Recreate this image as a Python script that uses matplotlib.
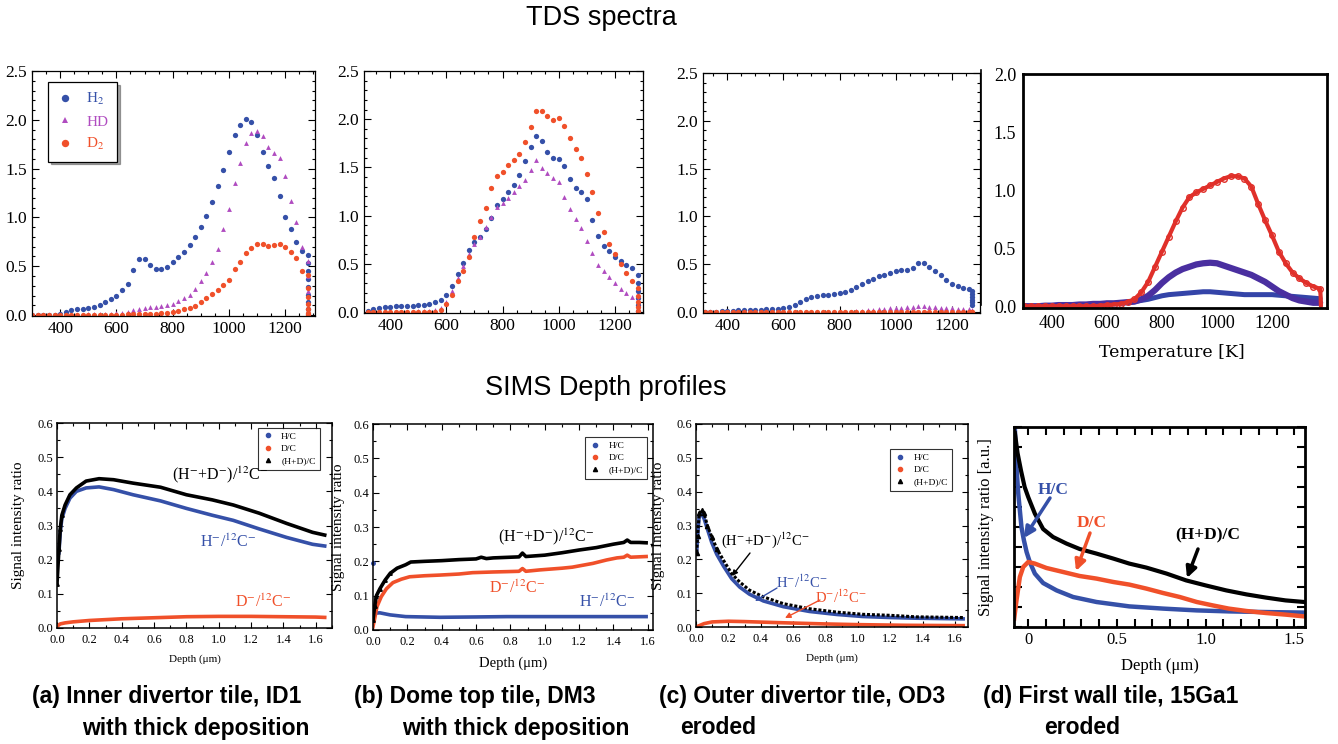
import matplotlib
matplotlib.use('Agg')
import matplotlib.pyplot as plt
from matplotlib.lines import Line2D
from matplotlib.ticker import MultipleLocator

plt.rcParams['font.family'] = ['Liberation Serif', 'DejaVu Serif']
plt.rcParams['mathtext.fontset'] = 'stix'

W, H = 1338, 744

BLUE = '#3550a8'
ORANGE = '#f0502a'
PURPLE = '#b04cc0'
RED_D = '#e0302a'
VIOLET_D = '#4a2fa0'
BLUE_D = '#3444a8'

# ---------------- TDS data (temperature in K) ----------------
T_GRID = [300, 320, 340, 360, 380, 400, 420, 440, 460, 480,
          500, 520, 540, 560, 580, 600, 620, 640, 660, 680,
          700, 720, 740, 760, 780, 800, 820, 840, 860, 880,
          900, 920, 940, 960, 980, 1000, 1020, 1040, 1060, 1080,
          1100, 1120, 1140, 1160, 1180, 1200, 1220, 1240, 1260]

# (a) inner divertor tile
A_T_END = 1280
A_H2 = [0, 0, 0, 0, 0.005, 0.01, 0.03, 0.05, 0.06, 0.065,
        0.07, 0.08, 0.10, 0.13, 0.16, 0.20, 0.26, 0.32, 0.46, 0.57,
        0.57, 0.51, 0.47, 0.47, 0.49, 0.54, 0.59, 0.65, 0.72, 0.80,
        0.90, 1.01, 1.16, 1.32, 1.49, 1.67, 1.84, 1.95, 2.01, 1.98,
        1.84, 1.67, 1.53, 1.40, 1.22, 1.00, 0.88, 0.75, 0.66]
A_H2_END = [0.61, 0.53, 0.45, 0.37, 0.29, 0.21, 0.13, 0.06, 0.01]
A_HD = [0, 0, 0, 0, 0, 0, 0, 0, 0, 0.005,
        0.01, 0.01, 0.01, 0.01, 0.015, 0.02, 0.02, 0.03, 0.05, 0.065,
        0.075, 0.08, 0.085, 0.09, 0.10, 0.11, 0.14, 0.17, 0.21, 0.27,
        0.35, 0.43, 0.54, 0.68, 0.88, 1.09, 1.35, 1.56, 1.76, 1.86,
        1.89, 1.83, 1.72, 1.66, 1.61, 1.42, 1.17, 0.95, 0.70]
A_HD_END = [0.55, 0.40, 0.25, 0.12, 0.03]
A_D2 = [0, 0, 0, 0, 0, 0, 0, 0, 0, 0,
        0, 0, 0, 0, 0, 0.005, 0.005, 0.01, 0.01, 0.01,
        0.01, 0.015, 0.015, 0.02, 0.025, 0.035, 0.045, 0.06, 0.075, 0.095,
        0.13, 0.17, 0.22, 0.26, 0.31, 0.36, 0.47, 0.54, 0.64, 0.69,
        0.73, 0.73, 0.71, 0.72, 0.73, 0.70, 0.65, 0.58, 0.45]
A_D2_END = [0.41, 0.28, 0.18, 0.11, 0.06, 0.02, 0.0]

# (b) dome top tile
B_T_END = 1282
B_H2 = [0.0, 0.01, 0.03, 0.045, 0.05, 0.055, 0.06, 0.06, 0.065, 0.065,
        0.07, 0.075, 0.085, 0.10, 0.13, 0.18, 0.27, 0.39, 0.51, 0.64,
        0.73, 0.78, 0.86, 0.98, 1.11, 1.17, 1.24, 1.32, 1.42, 1.57,
        1.71, 1.83, 1.77, 1.66, 1.60, 1.59, 1.51, 1.38, 1.29, 1.24,
        1.17, 0.95, 0.79, 0.69, 0.63, 0.57, 0.53, 0.49, 0.46]
B_H2_END = [0.38, 0.30, 0.22, 0.15, 0.07, 0.01]
B_HD = [0, 0, 0, 0, 0, 0, 0, 0, 0, 0,
        0.01, 0.01, 0.015, 0.02, 0.04, 0.10, 0.22, 0.35, 0.48, 0.60,
        0.71, 0.78, 0.88, 0.99, 1.09, 1.13, 1.18, 1.25, 1.31, 1.37,
        1.47, 1.58, 1.49, 1.44, 1.39, 1.35, 1.19, 1.07, 0.96, 0.87,
        0.74, 0.61, 0.49, 0.43, 0.36, 0.30, 0.24, 0.20, 0.16]
B_HD_END = [0.12, 0.07, 0.02]
B_D2 = [0, 0, 0, 0, 0, 0, 0, 0, 0, 0,
        0, 0, 0, 0.005, 0.02, 0.08, 0.18, 0.32, 0.43, 0.57,
        0.78, 0.94, 1.08, 1.29, 1.41, 1.45, 1.53, 1.58, 1.64, 1.76,
        1.92, 2.08, 2.09, 2.03, 1.99, 2.01, 1.93, 1.80, 1.69, 1.60,
        1.43, 1.25, 1.03, 0.83, 0.71, 0.60, 0.50, 0.41, 0.32]
B_D2_END = [0.25, 0.17, 0.10, 0.05, 0.01]

# (c) outer divertor tile
C_T_END = 1272
C_H2 = [0.0, 0.0, 0.0, 0.005, 0.01, 0.01, 0.015, 0.02, 0.02, 0.02,
        0.025, 0.025, 0.03, 0.03, 0.035, 0.04, 0.05, 0.07, 0.10, 0.14,
        0.16, 0.17, 0.18, 0.18, 0.19, 0.20, 0.21, 0.23, 0.26, 0.29,
        0.32, 0.35, 0.38, 0.39, 0.41, 0.43, 0.44, 0.44, 0.46, 0.51,
        0.51, 0.47, 0.43, 0.39, 0.34, 0.29, 0.27, 0.25, 0.24]
C_H2_END = [0.22, 0.19, 0.16, 0.13, 0.10, 0.07]
C_HD = [0, 0, 0, 0, 0, 0, 0, 0, 0, 0,
        0, 0, 0, 0, 0, 0, 0, 0, 0, 0,
        0, 0, 0, 0, 0, 0, 0, 0, 0.01, 0.015,
        0.02, 0.025, 0.03, 0.035, 0.04, 0.04, 0.045, 0.05, 0.055, 0.06,
        0.06, 0.055, 0.05, 0.045, 0.04, 0.04, 0.035, 0.03, 0.03]
C_HD_END = [0.02, 0.01]
C_D2 = [0, 0, 0, 0, 0, 0, 0, 0, 0, 0,
        0, 0, 0, 0, 0, 0, 0, 0, 0, 0,
        0, 0, 0, 0, 0, 0, 0, 0, 0, 0,
        0.005, 0.005, 0.005, 0.005, 0.005, 0.005, 0.005, 0.005, 0.005, 0.005,
        0.005, 0.005, 0.005, 0.005, 0.005, 0.005, 0.005, 0.005, 0.005]
C_D2_END = [0.005, 0.0]

# (d) first wall tile
T_D = [300, 325, 350, 375, 400, 425, 450, 475, 500, 525,
       550, 575, 600, 625, 650, 675, 700, 725, 750, 775,
       800, 825, 850, 875, 900, 925, 950, 975, 1000, 1025,
       1050, 1075, 1100, 1125, 1150, 1175, 1200, 1225, 1250, 1275,
       1300, 1325, 1350, 1375]
D_RED = [0, 0, 0, 0, 0, 0, 0, 0, 0, 0,
         0, 0.005, 0.01, 0.015, 0.02, 0.035, 0.06, 0.12, 0.21, 0.34,
         0.47, 0.60, 0.73, 0.85, 0.94, 0.98, 1.01, 1.04, 1.07, 1.10,
         1.12, 1.12, 1.10, 1.03, 0.88, 0.74, 0.61, 0.47, 0.37, 0.29,
         0.24, 0.20, 0.17, 0.15]
D_RED_END_T = [1377, 1378]
D_RED_END = [0.08, 0.0]
D_VIOLET = [0.0, 0.0, 0.0, 0.005, 0.005, 0.01, 0.01, 0.01, 0.015, 0.015,
            0.02, 0.02, 0.025, 0.025, 0.03, 0.035, 0.04, 0.06, 0.09, 0.14,
            0.20, 0.25, 0.29, 0.32, 0.34, 0.36, 0.37, 0.375, 0.37, 0.35,
            0.33, 0.31, 0.29, 0.27, 0.24, 0.21, 0.17, 0.13, 0.10, 0.07,
            0.05, 0.04, 0.03, 0.03]
D_BLUE = [0.0, 0.0, 0.0, 0.005, 0.005, 0.01, 0.01, 0.01, 0.015, 0.015,
          0.02, 0.02, 0.025, 0.025, 0.03, 0.035, 0.04, 0.05, 0.06, 0.075,
          0.09, 0.10, 0.105, 0.11, 0.115, 0.12, 0.125, 0.125, 0.12, 0.115,
          0.11, 0.105, 0.10, 0.10, 0.10, 0.10, 0.10, 0.095, 0.09, 0.085,
          0.08, 0.075, 0.07, 0.065]

# ---------------- SIMS data (depth in um) ----------------
SA_HD_X = [0.0, 0.012, 0.02, 0.03, 0.05, 0.08, 0.12, 0.18, 0.26, 0.35,
           0.47, 0.64, 0.80, 0.96, 1.09, 1.25, 1.42, 1.58, 1.655]
SA_HD_Y = [0.13, 0.23, 0.29, 0.33, 0.36, 0.39, 0.41, 0.43, 0.437, 0.434,
           0.424, 0.412, 0.39, 0.375, 0.36, 0.336, 0.306, 0.28, 0.272]
SA_H_X = [0.012, 0.02, 0.03, 0.05, 0.08, 0.12, 0.18, 0.26, 0.35,
          0.47, 0.64, 0.80, 0.96, 1.09, 1.25, 1.42, 1.58, 1.655]
SA_H_Y = [0.22, 0.28, 0.32, 0.35, 0.38, 0.40, 0.41, 0.413, 0.405,
          0.39, 0.372, 0.35, 0.33, 0.315, 0.29, 0.265, 0.245, 0.24]
SA_D_X = [0.0, 0.02, 0.05, 0.1, 0.2, 0.4, 0.6, 0.8, 1.0, 1.2, 1.4, 1.6, 1.655]
SA_D_Y = [0.005, 0.012, 0.015, 0.018, 0.022, 0.027, 0.030, 0.033, 0.034,
          0.034, 0.033, 0.032, 0.031]

SB_HD_X = [0.0, 0.01, 0.02, 0.04, 0.07, 0.10, 0.14, 0.19, 0.22, 0.30,
           0.40, 0.50, 0.60, 0.63, 0.66, 0.70, 0.80, 0.85, 0.87, 0.89,
           1.0, 1.1, 1.2, 1.3, 1.4, 1.46, 1.48, 1.50, 1.55, 1.59]
SB_HD_Y = [0.03, 0.07, 0.10, 0.12, 0.145, 0.165, 0.18, 0.19, 0.198, 0.200,
           0.202, 0.205, 0.207, 0.212, 0.208, 0.21, 0.212, 0.213, 0.224, 0.214,
           0.218, 0.225, 0.233, 0.240, 0.250, 0.255, 0.262, 0.255, 0.255, 0.254]
SB_D_X = [0.0, 0.01, 0.023, 0.048, 0.078, 0.116, 0.165, 0.213, 0.30, 0.39,
          0.50, 0.58, 0.70, 0.78, 0.85, 0.87, 0.89, 0.97, 1.1, 1.16,
          1.28, 1.36, 1.42, 1.46, 1.48, 1.50, 1.59]
SB_D_Y = [0.01, 0.034, 0.068, 0.097, 0.12, 0.138, 0.148, 0.155, 0.158, 0.16,
          0.163, 0.167, 0.169, 0.17, 0.171, 0.179, 0.171, 0.175, 0.18, 0.183,
          0.194, 0.204, 0.210, 0.212, 0.218, 0.212, 0.214]
SB_H_X = [0.01, 0.04, 0.1, 0.19, 0.39, 0.6, 0.78, 1.0, 1.16, 1.4, 1.59]
SB_H_Y = [0.049, 0.05, 0.044, 0.039, 0.037, 0.038, 0.039, 0.039, 0.039, 0.039, 0.039]
SB_H_FIRST = (0.0, 0.194)

SC_X = [0.004, 0.01, 0.02, 0.035, 0.05, 0.07, 0.097, 0.128, 0.17, 0.22,
        0.27, 0.33, 0.416, 0.54, 0.70, 0.87, 1.03, 1.2, 1.36, 1.65]
SC_HD_Y = [0.22, 0.27, 0.336, 0.345, 0.336, 0.30, 0.267, 0.232, 0.197, 0.158,
           0.133, 0.109, 0.089, 0.069, 0.054, 0.044, 0.0375, 0.0345, 0.03, 0.028]
SC_H_Y = [0.22, 0.27, 0.33, 0.335, 0.32, 0.29, 0.25, 0.215, 0.18, 0.143,
          0.118, 0.097, 0.077, 0.060, 0.046, 0.037, 0.031, 0.028, 0.026, 0.024]
SC_D_X = [0.0, 0.05, 0.1, 0.2, 0.3, 0.5, 0.8, 1.0, 1.3, 1.65]
SC_D_Y = [0.0, 0.01, 0.015, 0.017, 0.016, 0.013, 0.009, 0.007, 0.005, 0.004]

# (d) arbitrary units
SD_HD_X = [-0.075, -0.06, -0.04, -0.02, 0.0, 0.0375, 0.084, 0.14, 0.216, 0.29,
           0.385, 0.48, 0.57, 0.666, 0.78, 0.89, 1.0, 1.116, 1.23, 1.34, 1.45, 1.556]
SD_HD_Y = [0.97, 0.87, 0.78, 0.70, 0.65, 0.567, 0.49, 0.45, 0.417, 0.39,
           0.367, 0.342, 0.317, 0.297, 0.267, 0.233, 0.208, 0.183, 0.163, 0.147, 0.133, 0.125]
SD_H_X = [-0.075, -0.066, -0.056, -0.047, -0.038, -0.024, -0.009, 0.009, 0.0375, 0.084,
          0.16, 0.253, 0.385, 0.57, 0.76, 0.95, 1.13, 1.32, 1.556]
SD_H_Y = [0.99, 0.80, 0.667, 0.583, 0.50, 0.433, 0.375, 0.325, 0.267, 0.22,
          0.183, 0.15, 0.125, 0.103, 0.092, 0.083, 0.078, 0.075, 0.072]
SD_D_X = [-0.079, -0.066, -0.047, -0.028, 0.0, 0.0375, 0.103, 0.197, 0.29, 0.385,
          0.48, 0.57, 0.666, 0.76, 0.854, 0.95, 1.04, 1.13, 1.23, 1.34, 1.45, 1.556]
SD_D_Y = [0.042, 0.133, 0.25, 0.30, 0.325, 0.317, 0.295, 0.275, 0.255, 0.242,
          0.225, 0.212, 0.192, 0.17, 0.15, 0.125, 0.108, 0.092, 0.08, 0.07, 0.062, 0.053]

CAPTIONS = [
    ('(a) Inner divertor tile, ID1', 'with thick deposition', 32, 82),
    ('(b) Dome top tile, DM3', 'with thick deposition', 354, 402),
    ('(c) Outer divertor tile, OD3', 'eroded', 659, 680),
    ('(d) First wall tile, 15Ga1', 'eroded', 983, 1044),
]

LBL_HD = r'(H$^{-}$+D$^{-}$)/$^{12}$C$^{-}$'
LBL_H = r'H$^{-}$/$^{12}$C$^{-}$'
LBL_D = r'D$^{-}$/$^{12}$C$^{-}$'


def px_axes(fig, left, top, right, bottom):
    return fig.add_axes([left / W, 1 - bottom / H, (right - left) / W, (bottom - top) / H])


def fp(x, y):
    # image pixel (top-left origin) -> figure pixels
    return (x, H - y)


def tds_panel(ax, h2, hd, d2, t_end, h2_end, hd_end, d2_end, xlim):
    ax.plot(T_GRID + [t_end] * len(h2_end), h2 + h2_end, 'o', color=BLUE, ms=3.8, mew=0, label='H$_2$')
    ax.plot(T_GRID + [t_end] * len(hd_end), hd + hd_end, '^', color=PURPLE, ms=3.5, mew=0, label='HD')
    ax.plot(T_GRID + [t_end] * len(d2_end), d2 + d2_end, 'o', color=ORANGE, ms=3.8, mew=0, label='D$_2$')
    ax.set_xlim(*xlim)
    ax.set_ylim(-0.01, 2.5)
    ax.xaxis.set_major_locator(MultipleLocator(200))
    ax.xaxis.set_minor_locator(MultipleLocator(50))
    ax.yaxis.set_major_locator(MultipleLocator(0.5))
    ax.yaxis.set_minor_locator(MultipleLocator(0.1))
    ax.yaxis.set_major_formatter(plt.FuncFormatter(lambda v, p: f'{v:.1f}'))
    ax.tick_params(which='both', direction='in', top=True, right=True, labelsize=12.5, width=0.8)
    ax.tick_params(which='major', length=5)
    ax.tick_params(which='minor', length=2.5)
    for s in ax.spines.values():
        s.set_linewidth(0.9)


def sims_panel(ax, xlim, ylabel, ylabel_x, xlabel_size, legend_anchor):
    ax.set_xlim(*xlim)
    ax.set_ylim(0, 0.6)
    ax.xaxis.set_major_locator(MultipleLocator(0.2))
    ax.xaxis.set_minor_locator(MultipleLocator(0.1))
    ax.yaxis.set_major_locator(MultipleLocator(0.1))
    ax.yaxis.set_minor_locator(MultipleLocator(0.05))
    ax.xaxis.set_major_formatter(plt.FuncFormatter(lambda v, p: f'{v:.1f}'))
    ax.yaxis.set_major_formatter(plt.FuncFormatter(lambda v, p: f'{v:.1f}'))
    ax.tick_params(which='both', direction='in', top=True, right=True, labelsize=9, width=0.8)
    ax.tick_params(axis='x', pad=4)
    ax.tick_params(axis='y', pad=3)
    ax.tick_params(which='major', length=4)
    ax.tick_params(which='minor', length=2)
    for s in ax.spines.values():
        s.set_linewidth(1.1)
    ax.set_ylabel(ylabel, fontsize=11)
    ax.yaxis.set_label_coords(ylabel_x, 0.5)
    ax.set_xlabel('Depth (μm)', fontsize=xlabel_size)
    ax.xaxis.set_label_coords(0.5, -0.13)
    handles = [
        Line2D([], [], ls='none', marker='o', ms=3, color=BLUE, label='H/C'),
        Line2D([], [], ls='none', marker='o', ms=3, color=ORANGE, label='D/C'),
        Line2D([], [], ls='none', marker='^', ms=3, color='black', label='(H+D)/C'),
    ]
    leg = ax.legend(handles=handles, loc='upper right', bbox_to_anchor=legend_anchor,
                    borderaxespad=0, fontsize=6.8, frameon=True, fancybox=False,
                    edgecolor='black', handlelength=1.2, handletextpad=0.8,
                    borderpad=0.45, labelspacing=0.4)
    leg.get_frame().set_linewidth(0.8)


def main():
    fig = plt.figure(figsize=(W / 100, H / 100), dpi=100)

    fig.text(601 / W, 1 - 18 / H, 'TDS spectra', ha='center', va='center',
             fontsize=19.5, family=['Liberation Sans', 'DejaVu Sans'])
    fig.text(606 / W, 1 - 388 / H, 'SIMS Depth profiles', ha='center', va='center',
             fontsize=19.5, family=['Liberation Sans', 'DejaVu Sans'])

    # ---------- TDS ----------
    ax = px_axes(fig, 32, 71, 315, 316)
    tds_panel(ax, A_H2, A_HD, A_D2, A_T_END, A_H2_END, A_HD_END, A_D2_END, (300, 1306))
    leg = ax.legend(loc='upper left', bbox_to_anchor=(0.057, 0.955), borderaxespad=0,
                    fontsize=11, labelcolor='markerfacecolor', shadow=True, fancybox=False,
                    edgecolor='black', framealpha=1, markerscale=1.4,
                    handlelength=1.0, handletextpad=0.9, labelspacing=0.5, borderpad=0.6)
    leg.get_frame().set_linewidth(0.9)

    ax = px_axes(fig, 364, 71, 643, 313)
    tds_panel(ax, B_H2, B_HD, B_D2, B_T_END, B_H2_END, B_HD_END, B_D2_END, (307, 1300))

    ax = px_axes(fig, 703, 73, 980, 313)
    tds_panel(ax, C_H2, C_HD, C_D2, C_T_END, C_H2_END, C_HD_END, C_D2_END, (314, 1300))

    ax = px_axes(fig, 1023, 74, 1327, 308)
    ax.plot(T_D, D_BLUE, color=BLUE_D, lw=3.6, solid_capstyle='round')
    ax.plot(T_D, D_VIOLET, color=VIOLET_D, lw=4.5, solid_capstyle='round')
    ax.plot(T_D + D_RED_END_T, D_RED + D_RED_END, color=RED_D, lw=3.0, solid_capstyle='round')
    ax.plot(T_D, D_RED, 'o', mfc='none', mec=RED_D, ms=4, mew=1.0)
    ax.set_xlim(295, 1400)
    ax.set_ylim(-0.015, 2.0)
    ax.set_xticks([400, 600, 800, 1000, 1200])
    ax.set_yticks([0, 0.5, 1.0, 1.5, 2.0])
    ax.yaxis.set_major_formatter(plt.FuncFormatter(lambda v, p: f'{v:.1f}'))
    ax.tick_params(length=0, labelsize=13, pad=5)
    for s in ax.spines.values():
        s.set_linewidth(2)
    ax.set_xlabel('Temperature [K]', fontsize=12.5, family=['DejaVu Serif'])
    ax.xaxis.set_label_coords(0.49, -0.155)
    fig.add_artist(Line2D([981 / W, 981 / W], [1 - 70 / H, 1 - 305 / H], color='black', lw=1.2))

    # ---------- SIMS ----------
    ax = px_axes(fig, 57, 423, 332, 628)
    ax.plot(SA_D_X, SA_D_Y, '-', color=ORANGE, lw=2.6)
    ax.plot(SA_H_X, SA_H_Y, '-', color=BLUE, lw=2.6)
    ax.plot(SA_HD_X, SA_HD_Y, '-', color='black', lw=2.6)
    ax.plot(SA_HD_X[:4], SA_HD_Y[:4], '^', color='black', ms=2.5)
    sims_panel(ax, (0, 1.7), 'Signal intensity ratio', -0.116, 8, (0.956, 0.976))
    fig.text(220 / W, 1 - 475 / H, LBL_HD, ha='center', va='center', fontsize=11.5)
    fig.text(228 / W, 1 - 542 / H, LBL_H, ha='center', va='center', fontsize=11.5, color=BLUE)
    fig.text(263 / W, 1 - 602 / H, LBL_D, ha='center', va='center', fontsize=11.5, color=ORANGE)

    ax = px_axes(fig, 373, 424, 653, 630)
    ax.plot(SB_H_X, SB_H_Y, '-', color=BLUE, lw=2.6)
    ax.plot([SB_H_FIRST[0]], [SB_H_FIRST[1]], 'o', color=BLUE, ms=2.5, clip_on=False)
    ax.plot(SB_D_X, SB_D_Y, '-', color=ORANGE, lw=2.6)
    ax.plot(SB_HD_X, SB_HD_Y, '-', color='black', lw=2.6)
    ax.plot(SB_HD_X[:6], SB_HD_Y[:6], '^', color='black', ms=2.5)
    sims_panel(ax, (0, 1.63), 'Signal intensity ratio', -0.1, 10.5, (0.979, 0.937))
    fig.text(546 / W, 1 - 537 / H, LBL_HD, ha='center', va='center', fontsize=11.5)
    fig.text(517 / W, 1 - 588 / H, LBL_D, ha='center', va='center', fontsize=11.5, color=ORANGE)
    fig.text(607 / W, 1 - 602 / H, LBL_H, ha='center', va='center', fontsize=11.5, color=BLUE)

    ax = px_axes(fig, 696, 424, 968, 627)
    ax.plot(SC_D_X, SC_D_Y, '-', color=ORANGE, lw=2.6)
    ax.plot(SC_X, SC_H_Y, '-', color=BLUE, lw=2.6)
    ax.plot(SC_X, SC_HD_Y, '-', color='black', lw=2.2, ls=(0, (1, 0.6)))
    ax.plot(SC_X[:8], SC_HD_Y[:8], '^', color='black', ms=3)
    sims_panel(ax, (0, 1.68), 'Signal Intensity ratio', -0.114, 8, (0.941, 0.877))
    fig.text(765 / W, 1 - 540 / H, LBL_HD, ha='center', va='center', fontsize=10.5)
    fig.text(802 / W, 1 - 582 / H, LBL_H, ha='center', va='center', fontsize=10.5, color=BLUE)
    fig.text(841 / W, 1 - 597 / H, LBL_D, ha='center', va='center', fontsize=10.5, color=ORANGE)
    for (x0, y0, x1, y1, c) in [(750, 553, 732, 576, 'black'),
                                (777, 588, 755, 601, BLUE),
                                (820, 600, 785, 618, ORANGE)]:
        fig.add_artist(plt.Annotation('', xy=fp(x1, y1), xytext=fp(x0, y0),
                                      xycoords='figure pixels', textcoords='figure pixels',
                                      arrowprops=dict(arrowstyle='-|>', color=c, lw=1.0,
                                                      mutation_scale=8, shrinkA=0, shrinkB=0)))

    ax = px_axes(fig, 1014, 427, 1305, 627)
    ax.plot(SD_H_X, SD_H_Y, '-', color=BLUE, lw=3.2)
    ax.plot(SD_D_X, SD_D_Y, '-', color=ORANGE, lw=3.2)
    ax.plot(SD_HD_X, SD_HD_Y, '-', color='black', lw=3.0)
    ax.set_xlim(-0.08, 1.56)
    ax.set_ylim(0, 1)
    ax.set_xticks([0, 0.5, 1.0, 1.5])
    ax.set_xticklabels(['0', '0.5', '1.0', '1.5'])
    ax.xaxis.set_minor_locator(MultipleLocator(0.1))
    ax.yaxis.set_major_locator(MultipleLocator(0.1))
    ax.tick_params(axis='y', labelleft=False)
    ax.tick_params(which='both', direction='in', top=True, right=True, labelsize=12, width=1.5)
    ax.tick_params(which='major', length=6)
    ax.tick_params(which='minor', length=6)
    for s in ax.spines.values():
        s.set_linewidth(2)
    ax.set_ylabel('Signal intensity ratio [a.u.]', fontsize=12)
    ax.yaxis.set_label_coords(-0.069, 0.5)
    ax.set_xlabel('Depth (μm)', fontsize=12)
    ax.xaxis.set_label_coords(0.5, -0.155)
    for (txt, tx, ty, x0, y0, x1, y1, c) in [('H/C', 1053, 490, 1050, 498, 1024, 538, BLUE),
                                             ('D/C', 1092, 523, 1090, 533, 1076, 571, ORANGE),
                                             ('(H+D)/C', 1208, 535, 1198, 549, 1187, 578, 'black')]:
        fig.text(tx / W, 1 - ty / H, txt, ha='center', va='center', fontsize=12.5,
                 fontweight='bold', color=c)
        fig.add_artist(plt.Annotation('', xy=fp(x1, y1), xytext=fp(x0, y0),
                                      xycoords='figure pixels', textcoords='figure pixels',
                                      arrowprops=dict(arrowstyle='-|>', color=c, lw=2.5,
                                                      mutation_scale=16, shrinkA=0, shrinkB=0)))

    # ---------- captions ----------
    for line1, line2, x1, x2 in CAPTIONS:
        fig.text(x1 / W, 1 - 697 / H, line1, ha='left', va='center', fontsize=16.5,
                 fontweight='bold', family=['Liberation Sans', 'DejaVu Sans'])
        fig.text(x2 / W, 1 - 728 / H, line2, ha='left', va='center', fontsize=16.5,
                 fontweight='bold', family=['Liberation Sans', 'DejaVu Sans'])

    fig.savefig('out.png', dpi=100)
    plt.close(fig)


if __name__ == '__main__':
    main()
